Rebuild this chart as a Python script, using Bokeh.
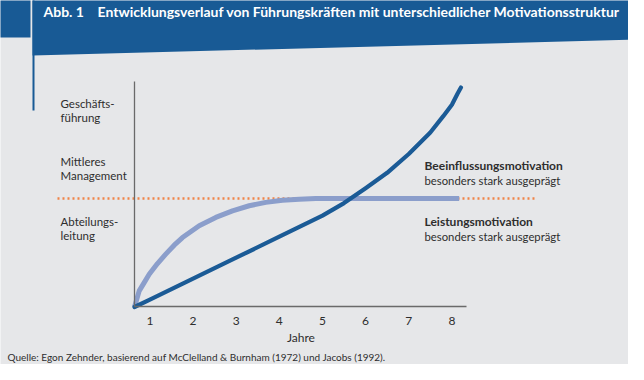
from bokeh.plotting import figure
from bokeh.models import LinearAxis, FixedTicker, Label, PolyAnnotation, BoxAnnotation, Range1d
from bokeh.embed import file_html
from bokeh.resources import INLINE

# ---------------- data ----------------
jahre_ticks = [1, 2, 3, 4, 5, 6, 7, 8]
achse_x_start = 0.643
achse_x_ende = 8.338
achse_y_ende = 100.5

# Beeinflussungsmotivation (dunkelblau)
bee_x = [0.643, 1, 2, 3, 4, 5, 5.5, 6, 6.5, 7, 7.5, 7.8, 8.0, 8.13, 8.21]
bee_y = [0, 3.3, 12.7, 22.0, 31.4, 40.8, 46.4, 53.0, 59.9, 68.3, 77.9, 85.2, 90.3, 95.2, 98.0]

# Leistungsmotivation (hellblau)
lei_x = [0.643, 0.752, 0.868, 0.984, 1.176, 1.368, 1.563, 1.755, 2.143, 2.527,
         2.914, 3.302, 3.686, 4.073, 4.461, 4.845, 5.233, 8.169]
lei_y = [0, 7.2, 10.9, 14.6, 19.4, 23.6, 27.6, 31.0, 36.3, 40.0,
         42.9, 45.2, 46.7, 47.7, 48.1, 48.4, 48.4, 48.4]

schwelle = 48.4
schwelle_x = [-1.142, 9.916]

ebenen_zeile1 = ["Geschäfts-", "Mittleres", "Abteilungs-"]
ebenen_zeile2 = ["führung", "Management", "leitung"]
ebenen_y = [87.7, 62.0, 34.9]

titel_nr = "Abb. 1"
titel = "Entwicklungsverlauf von Führungskräften mit unterschiedlicher Motivationsstruktur"
quelle = "Quelle: Egon Zehnder, basierend auf McClelland & Burnham (1972) und Jacobs (1992)."

# ---------------- style ----------------
BG = "#e6e7e9"
BLUE = "#185a95"
DARK = "#1b5b96"
LIGHT = "#8b9ecb"
ORANGE = "#f08448"
TXT = "#2e2e2e"
FONT = "Lato"

W, H = 628, 364

p = figure(width=W, height=H, output_backend="svg", toolbar_location=None,
           x_range=Range1d(-2.463, 12.094), y_range=Range1d(-25.67, 136.83),
           x_axis_location=None, y_axis_location=None,
           min_border=0, min_border_left=0, min_border_right=0,
           min_border_top=0, min_border_bottom=0)
p.background_fill_color = BG
p.border_fill_color = BG
p.outline_line_color = None
p.grid.grid_line_color = None

# header decoration (screen units, y up from bottom)
p.add_layout(PolyAnnotation(xs=[32, 640, 640, 32], ys=[H + 8, H + 8, 325, 309],
                            xs_units="screen", ys_units="screen",
                            fill_color=BLUE, fill_alpha=1, line_color=None))
p.add_layout(BoxAnnotation(left=-10, right=30, top=H + 8, bottom=327,
                           left_units="screen", right_units="screen",
                           top_units="screen", bottom_units="screen",
                           fill_color=BLUE, fill_alpha=1, line_color=None))
p.add_layout(BoxAnnotation(left=32, right=34, top=H + 8, bottom=254,
                           left_units="screen", right_units="screen",
                           top_units="screen", bottom_units="screen",
                           fill_color=BLUE, fill_alpha=1, line_color=None))

p.add_layout(Label(x=43, y=353, x_units="screen", y_units="screen", text=titel_nr,
                   text_font=FONT, text_font_style="bold", text_font_size="14px",
                   text_color="white", text_baseline="middle"))
p.add_layout(Label(x=97, y=353, x_units="screen", y_units="screen", text=titel,
                   text_font=FONT, text_font_style="bold", text_font_size="14px",
                   text_color="white", text_baseline="middle"))

# axes
xaxis = LinearAxis(fixed_location=0, bounds=(achse_x_start, achse_x_ende),
                   ticker=FixedTicker(ticks=jahre_ticks))
xaxis.major_tick_in = 0
xaxis.major_tick_out = 0
xaxis.minor_tick_in = 0
xaxis.minor_tick_out = 0
xaxis.axis_line_color = "#6a6a6a"
xaxis.axis_line_width = 1.3
xaxis.major_label_standoff = 10
xaxis.major_label_text_font = FONT
xaxis.major_label_text_font_size = "12px"
xaxis.major_label_text_color = TXT
p.add_layout(xaxis, "below")

yaxis = LinearAxis(fixed_location=achse_x_start, bounds=(0, achse_y_ende),
                   ticker=FixedTicker(ticks=[]))
yaxis.major_tick_in = 0
yaxis.major_tick_out = 0
yaxis.minor_tick_in = 0
yaxis.minor_tick_out = 0
yaxis.axis_line_color = "#6a6a6a"
yaxis.axis_line_width = 1.3
p.add_layout(yaxis, "left")

# threshold line and curves
p.line(schwelle_x, [schwelle, schwelle], line_color=ORANGE, line_width=2.5, line_dash="2 3")
p.line(lei_x, lei_y, line_color=LIGHT, line_width=5, line_join="round")
p.line(bee_x, bee_y, line_color=DARK, line_width=4.2, line_join="round", line_cap="round")

# level labels
for z1, z2, yy in zip(ebenen_zeile1, ebenen_zeile2, ebenen_y):
    for txt, off in ((z1, 7), (z2, -7)):
        p.add_layout(Label(x=60, y=yy, y_offset=off, x_units="screen", y_units="data",
                           text=txt, text_font=FONT, text_font_size="11.5px",
                           text_color=TXT, text_baseline="middle"))

# series labels
p.add_layout(Label(x=424, y=199, x_units="screen", y_units="screen",
                   text="Beeinflussungsmotivation", text_font=FONT, text_font_style="bold",
                   text_font_size="12px", text_color=TXT, text_baseline="middle"))
p.add_layout(Label(x=424, y=184, x_units="screen", y_units="screen",
                   text="besonders stark ausgeprägt", text_font=FONT,
                   text_font_size="11.3px", text_color=TXT, text_baseline="middle"))
p.add_layout(Label(x=424, y=143, x_units="screen", y_units="screen",
                   text="Leistungsmotivation", text_font=FONT, text_font_style="bold",
                   text_font_size="12px", text_color=TXT, text_baseline="middle"))
p.add_layout(Label(x=424, y=128, x_units="screen", y_units="screen",
                   text="besonders stark ausgeprägt", text_font=FONT,
                   text_font_size="11.3px", text_color=TXT, text_baseline="middle"))

# x-axis title and source
p.add_layout(Label(x=4.5, y=27, x_units="data", y_units="screen", text="Jahre",
                   text_font=FONT, text_font_size="12px", text_color=TXT,
                   text_align="center", text_baseline="middle"))
p.add_layout(Label(x=7, y=8, x_units="screen", y_units="screen", text=quelle,
                   text_font=FONT, text_font_size="10px", text_color=TXT,
                   text_baseline="middle"))

open("out.html", "w").write(file_html(p, INLINE))
